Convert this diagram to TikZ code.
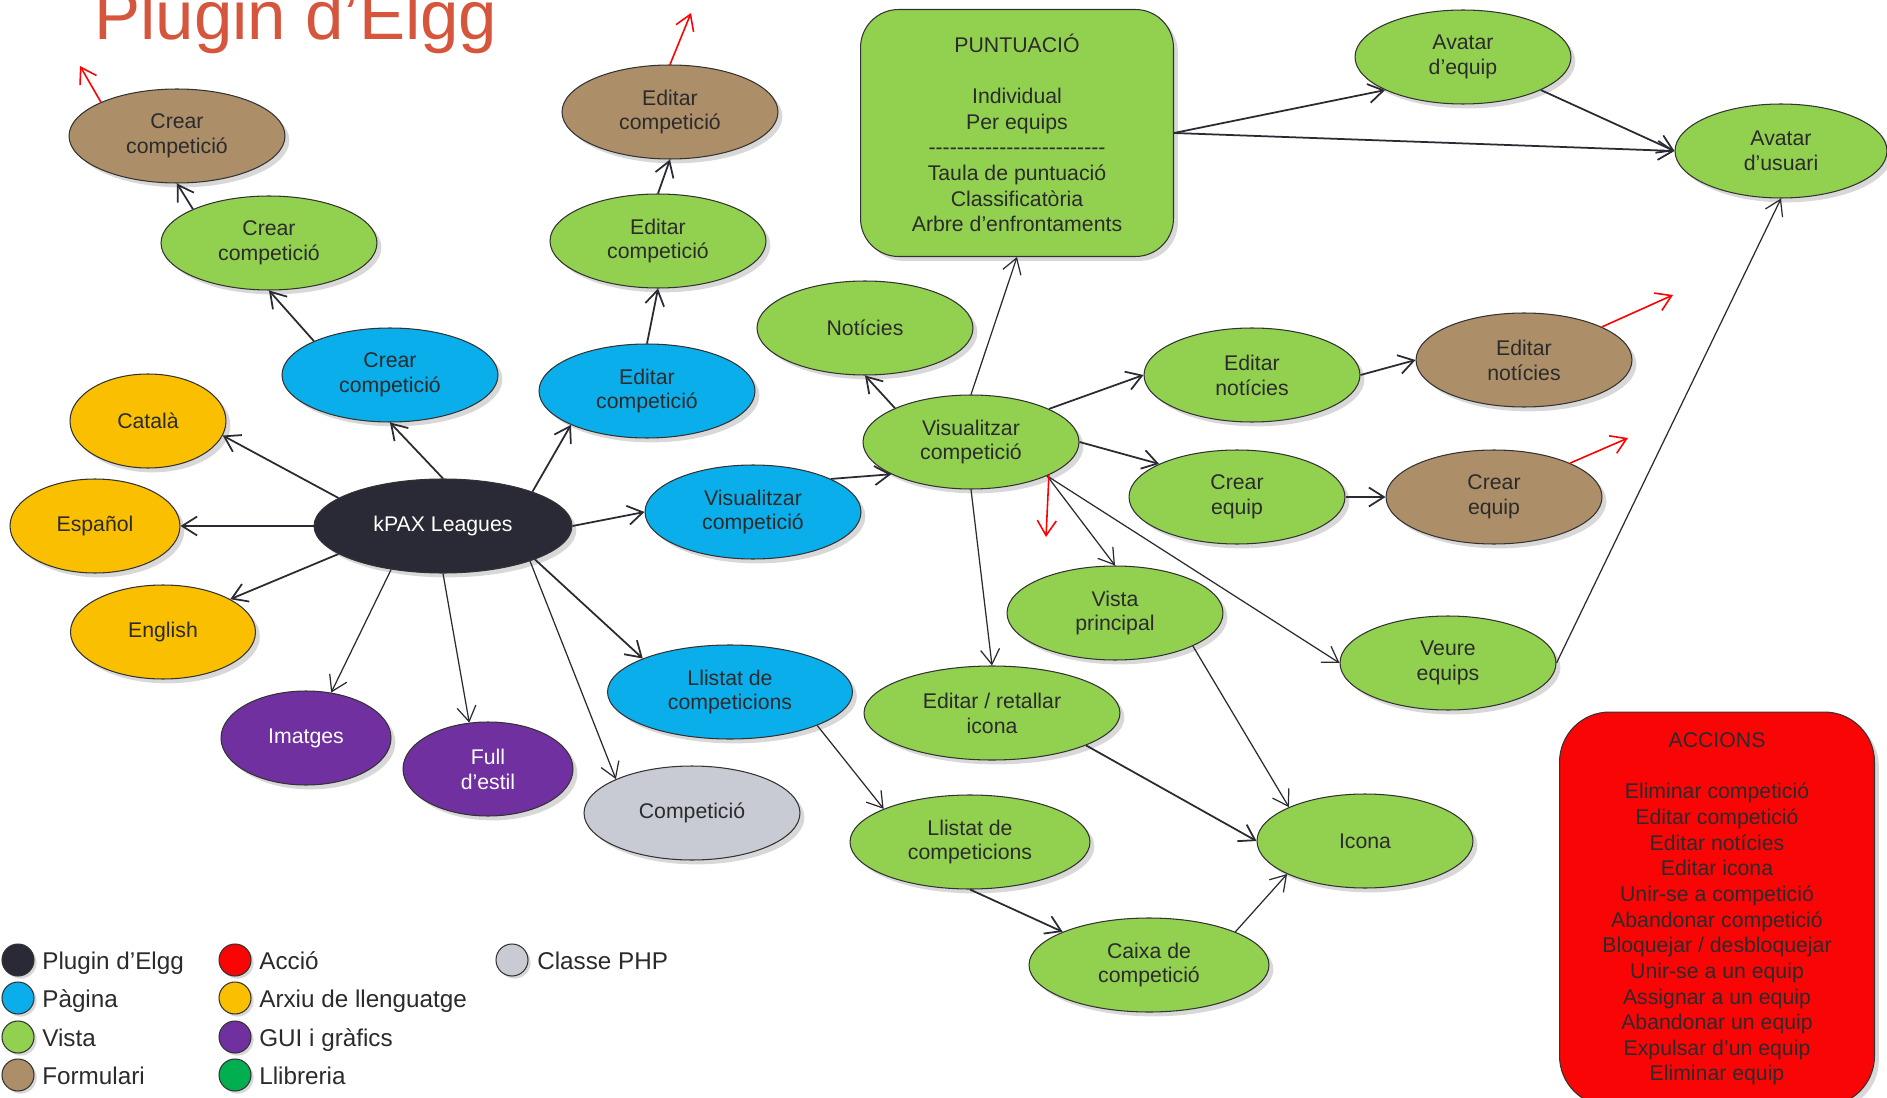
\documentclass[tikz,border=0pt]{standalone}
\usepackage{fontspec}
\setmainfont{Liberation Sans}
\usetikzlibrary{shapes.geometric,shadows,arrows.meta}

\definecolor{vistagreen}{HTML}{92D050}
\definecolor{paginablue}{HTML}{0AAEEA}
\definecolor{formbrown}{HTML}{AC8E68}
\definecolor{langyellow}{HTML}{FAC000}
\definecolor{guipurple}{HTML}{7030A0}
\definecolor{pluginblack}{HTML}{2A2A36}
\definecolor{classgray}{HTML}{C8CBD3}
\definecolor{acciored}{HTML}{FA0505}
\definecolor{llibgreen}{HTML}{00B050}
\definecolor{titlered}{HTML}{D5553D}
\definecolor{textdark}{HTML}{2B2B2B}
\definecolor{linkdark}{HTML}{2A2A33}

\tikzset{
  bubble/.style={ellipse, draw=black!80, line width=0.6pt, inner sep=0pt,
    minimum width=4.32cm, minimum height=1.88cm, align=center, text=textdark,
    font=\fontsize{12.1}{14.2}\selectfont,
    drop shadow={shadow xshift=2.5pt, shadow yshift=-2.5pt, opacity=0.3}},
  vista/.style={bubble, fill=vistagreen},
  pagina/.style={bubble, fill=paginablue},
  formulari/.style={bubble, fill=formbrown},
  llengua/.style={bubble, fill=langyellow},
  gui/.style={bubble, fill=guipurple, text=white},
  plugin/.style={bubble, fill=pluginblack, text=white},
  classe/.style={bubble, fill=classgray},
  caixa/.style={rectangle, rounded corners=0.76cm, draw=black!80, line width=0.6pt,
    align=center, text=textdark, font=\fontsize{12.1}{14.6}\selectfont,
    drop shadow={shadow xshift=2.5pt, shadow yshift=-2.5pt, opacity=0.3}},
  dot/.style={circle, draw=black!80, line width=0.6pt, minimum size=0.64cm, inner sep=0pt,
    drop shadow={shadow xshift=1.5pt, shadow yshift=-1.5pt, opacity=0.3}},
  legtext/.style={anchor=base west, inner sep=0pt, text=textdark, font=\fontsize{13.8}{15}\selectfont},
  link/.style={draw=linkdark, line width=1pt, -{Straight Barb[length=0.3cm,width=0.38cm]}},
  thinlink/.style={link, line width=0.7pt},
  redlink/.style={draw=red, line width=0.9pt, -{Straight Barb[length=0.3cm,width=0.38cm]}},
}

\begin{document}
\begin{tikzpicture}[x=0.02cm, y=-0.02cm] % 1 unit = 1 px of the drawing

\useasboundingbox (0,0) rectangle (1887,1098);
\clip (0,0) rectangle (1887,1098);
\fill[white] (0,0) rectangle (1887,1098);

\node[anchor=base west, inner sep=0pt, text=titlered, font=\fontsize{39.3}{43}\selectfont] (title) at (94,40) {Plugin d’Elgg};

% plugin and its pages
\node[plugin, minimum width=5.16cm] (kpax) at (443,526) {kPAX Leagues};
\node[llengua, minimum width=3.12cm] (catala) at (148,421) {Català};
\node[llengua, minimum width=3.4cm] (espanol) at (95,526) {Español};
\node[llengua, minimum width=3.7cm] (english) at (163,632) {English};
\node[gui, minimum width=3.4cm] (imatges) at (306,738) {Imatges};
\node[gui, minimum width=3.4cm] (full) at (488,769) {Full\\d’estil};
\node[classe] (competicio) at (692,813) {Competició};
\node[pagina] (pcrear) at (390,375) {Crear\\competició};
\node[pagina] (peditar) at (647,391) {Editar\\competició};
\node[pagina] (pvis) at (753,512) {Visualitzar\\competició};
\node[pagina, minimum width=4.9cm] (pllistat) at (730,692) {Llistat de\\competicions};

% views and forms
\node[vista] (vcrear) at (269,243) {Crear\\competició};
\node[formulari] (fcrear) at (177,136) {Crear\\competició};
\node[vista] (veditar) at (658,241) {Editar\\competició};
\node[formulari] (feditar) at (670,112) {Editar\\competició};
\node[vista] (noticies) at (865,328) {Notícies};
\node[vista] (vvis) at (971,442) {Visualitzar\\competició};
\node[vista] (avequip) at (1463,57) {Avatar\\d’equip};
\node[vista, minimum width=4.24cm] (avusuari) at (1781,151) {Avatar\\d’usuari};
\node[vista] (vednot) at (1252,375) {Editar\\notícies};
\node[formulari] (fednot) at (1524,360) {Editar\\notícies};
\node[vista] (vequip) at (1237,497) {Crear\\equip};
\node[formulari] (fequip) at (1494,497) {Crear\\equip};
\node[vista] (vprincipal) at (1115,613) {Vista\\principal};
\node[vista] (veure) at (1448,663) {Veure\\equips};
\node[vista, minimum width=5.12cm] (retallar) at (992,713) {Editar / retallar\\icona};
\node[vista, minimum width=4.8cm] (vllistat) at (970,842) {Llistat de\\competicions};
\node[vista] (icona) at (1365,841) {Icona};
\node[vista, minimum width=4.8cm] (caixa) at (1149,965) {Caixa de\\competició};

\node[caixa, fill=vistagreen, minimum width=6.26cm, minimum height=4.94cm] (punt) at (1017,133)
  {PUNTUACIÓ\\[14.6pt]Individual\\Per equips\\
   -{}-{}-{}-{}-{}-{}-{}-{}-{}-{}-{}-{}-{}-{}-{}-{}-{}-{}-{}-{}-{}-{}-{}-{}-{}\\
   Taula de puntuació\\Classificatòria\\Arbre d’enfrontaments};
\node[caixa, fill=acciored, rounded corners=1cm, minimum width=6.3cm, minimum height=7.88cm] (accions) at (1717,909)
  {ACCIONS\\[14.6pt]Eliminar competició\\Editar competició\\Editar notícies\\Editar icona\\
   Unir-se a competició\\Abandonar competició\\Bloquejar / desbloquejar\\Unir-se a un equip\\
   Assignar a un equip\\Abandonar un equip\\Expulsar d’un equip\\Eliminar equip};

% connectors
\foreach \a/\b in {kpax.165/catala.349, kpax.west/espanol.east, kpax.195/english.26,
  kpax.north/pcrear.south, kpax.21/peditar.204, kpax.east/pvis.west, kpax.340/pllistat.159,
  pcrear.156/vcrear.south, vcrear.156/fcrear.south, peditar.north/veditar.south,
  veditar.north/feditar.south, pvis.23/vvis.202, vvis.156/noticies.south, vvis.23/vednot.west,
  vednot.east/fednot.west, vvis.east/vequip.157, vequip.east/fequip.west,
  punt.east/avequip.203, punt.east/avusuari.west, avequip.337/avusuari.west,
  vllistat.south/caixa.159, retallar.341/icona.west}
  \draw[link] (\a) -- (\b);
\foreach \a/\b in {kpax.220/imatges.61, kpax.south/full.112, kpax.338/competicio.156,
  vvis.north/punt.south, vvis.south/retallar.north, vvis.336/vprincipal.north, vvis.336/veure.west,
  veure.east/avusuari.south, vprincipal.337/icona.156, caixa.21/icona.203, pllistat.339/vllistat.159}
  \draw[thinlink] (\a) -- (\b);

% actions leaving the forms
\coordinate (rcrear) at (80,66);
\coordinate (reditar) at (691,13);
\coordinate (rnot) at (1673,295);
\coordinate (requip) at (1628,438);
\coordinate (rvis) at (1046,537);
\draw[redlink] (fcrear.156) -- (rcrear);
\draw[redlink] (feditar.north) -- (reditar);
\draw[redlink] (fednot.23) -- (rnot);
\draw[redlink] (fequip.24) -- (requip);
\draw[redlink] (vvis.337) -- (rvis);

% legend
\foreach \y/\col/\txt [count=\i] in {960/pluginblack/Plugin d’Elgg, 998/paginablue/Pàgina,
  1037/vistagreen/Vista, 1075/formbrown/Formulari} {
  \node[dot, fill=\col] (dota\i) at (18,\y) {};
  \node[legtext] (lega\i) at (42,\y+9) {\txt};
}
\foreach \y/\col/\txt [count=\i] in {960/acciored/Acció, 998/langyellow/Arxiu de llenguatge,
  1037/guipurple/GUI i gràfics, 1075/llibgreen/Llibreria} {
  \node[dot, fill=\col] (dotb\i) at (235,\y) {};
  \node[legtext] (legb\i) at (259,\y+9) {\txt};
}
\node[dot, fill=classgray] (dotc1) at (512,960) {};
\node[legtext] (legc1) at (537,969) {Classe PHP};

\end{tikzpicture}
\end{document}
